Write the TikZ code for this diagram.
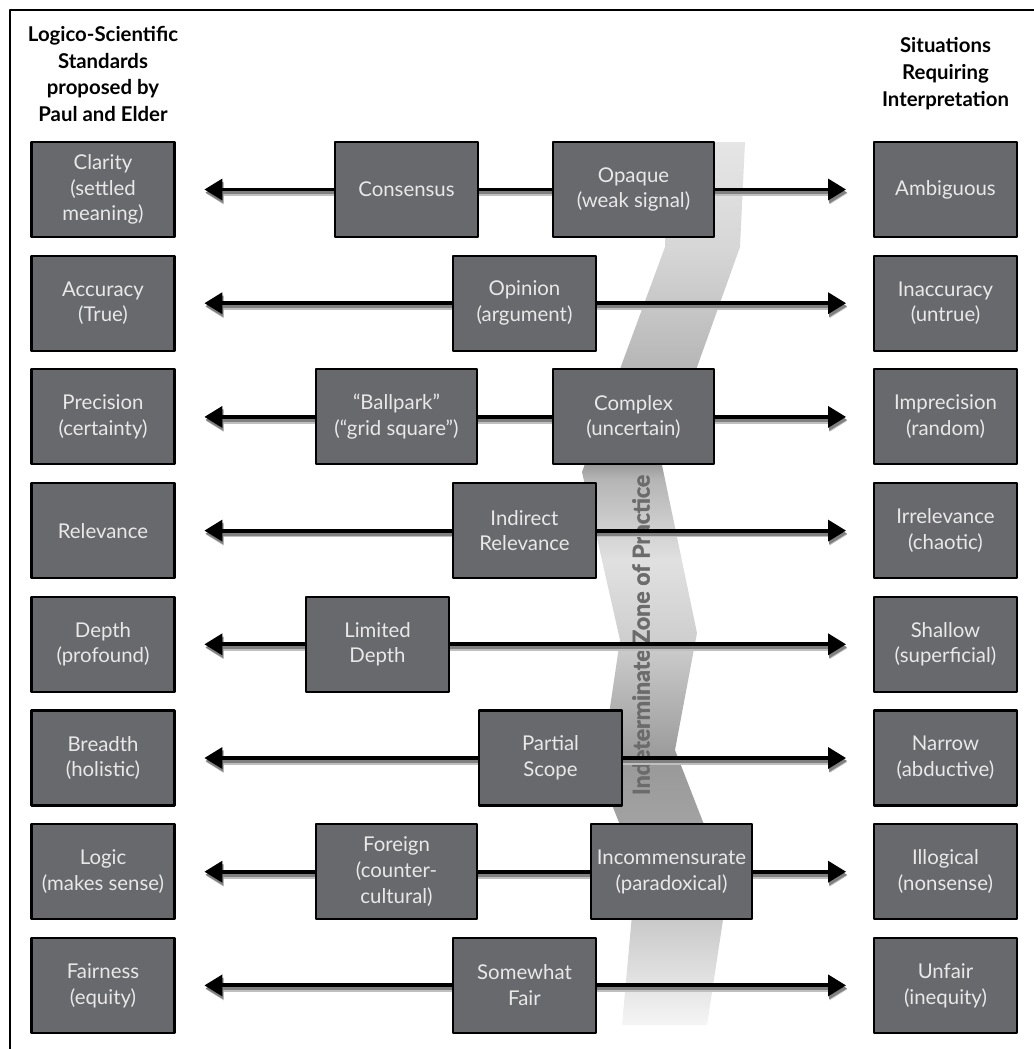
\documentclass[tikz,border=0pt]{standalone}
\usepackage{fontspec}
\setmainfont{Lato}
\newfontfamily\zonefont{Lato}[FakeBold=2]
\usetikzlibrary{arrows.meta}
\definecolor{boxgray}{RGB}{104,105,109}
\definecolor{boxtext}{RGB}{232,232,232}
\pgfdeclareverticalshading{zoneshade}{100bp}{color(0bp)=(black!4); color(25bp)=(black!4); color(30.9bp)=(black!21); color(36bp)=(black!36); color(40bp)=(black!40); color(46.8bp)=(black!19); color(51.3bp)=(black!12); color(55.9bp)=(black!29); color(56.7bp)=(black!39); color(68.9bp)=(black!16); color(75bp)=(black!10); color(100bp)=(black!10)}
\begin{document}
\begin{tikzpicture}[x=0.02cm,y=-0.02cm,line join=round]
\tikzset{box/.style={draw=black,line width=1.2pt,fill=boxgray,text=boxtext,minimum width=2.86cm,minimum height=1.9cm,align=center,inner sep=0pt,font=\fontsize{11.6}{14.7}\selectfont},
wide/.style={minimum width=3.22cm},
arr/.style={{Triangle[length=10.2pt,width=11.8pt]}-{Triangle[length=10.2pt,width=11.8pt]},line width=2.2pt,shorten <=16.4pt,shorten >=15.3pt},
head/.style={align=center,font=\bfseries\fontsize{11.6}{15.3}\selectfont}}
\useasboundingbox (0,0) rectangle (1034,1049);
\draw[line width=1.5pt] (10,1049) -- (10,10) -- (1034,10);
\node[head] (lhead) at (103,74) {Logico-Scientific\\Standards\\proposed by\\Paul and Elder};
\node[head] (rhead) at (945.5,74) {Situations\\Requiring\\Interpretation};
\shade[shading=zoneshade] (745,142) -- (740,247) -- (662,465) -- (697,633) -- (675,750) -- (712,845) -- (723,920) -- (707,1025)
 -- (622,1025) -- (632,915) -- (632,855) -- (600,775) -- (620,640) -- (582,472) -- (665,247) -- (668,142) -- cycle;
\node[rotate=90,text=black!58,font=\zonefont\bfseries\fontsize{13.2}{15}\selectfont] (zone) at (641,635) {Indeterminate Zone of Practice};
\foreach \i/\a/\b in {1/{Clarity\\(settled\\meaning)}/Ambiguous,2/{Accuracy\\(True)}/{Inaccuracy\\(untrue)},3/{Precision\\(certainty)}/{Imprecision\\(random)},4/Relevance/{Irrelevance\\(chaotic)},5/{Depth\\(profound)}/{Shallow\\(superficial)},6/{Breadth\\(holistic)}/{Narrow\\(abductive)},7/{Logic\\(makes sense)}/{Illogical\\(nonsense)},8/{Fairness\\(equity)}/{Unfair\\(inequity)}}{
\node[box] (l\i) at (103,{189.5+113.7*(\i-1)}) {\a};
\node[box] (r\i) at (945.5,{189.5+113.7*(\i-1)}) {\b};
}
\foreach \i in {1,...,8}{
\draw[arr,black!25,line width=3.4pt,transform canvas={xshift=0.8pt,yshift=-2.2pt}] (l\i) -- (r\i);
\draw[arr,black!50,transform canvas={xshift=0.6pt,yshift=-1.7pt}] (l\i) -- (r\i);
}
\foreach \i in {1,...,8}
\draw[arr] (l\i) -- (r\i);
\node[box] (cons) at (406.5,189.5) {Consensus};
\node[box,wide] (opaq) at (633.5,189.5) {Opaque\\(weak signal)};
\node[box] (opin) at (524.5,303.2) {Opinion\\(argument)};
\node[box,wide] (ball) at (396.5,416.9) {“Ballpark”\\(“grid square”)};
\node[box,wide] (comp) at (633.5,416.9) {Complex\\(uncertain)};
\node[box] (indr) at (524.5,530.6) {Indirect\\Relevance};
\node[box] (limd) at (377.5,644.3) {Limited\\Depth};
\node[box] (part) at (550.5,758) {Partial\\Scope};
\node[box,wide] (forn) at (396.5,871.7) {Foreign\\(counter-\\cultural)};
\node[box,wide] (incm) at (671.5,871.7) {Incommensurate\\(paradoxical)};
\node[box] (fair) at (524.5,985.4) {Somewhat\\Fair};
\end{tikzpicture}
\end{document}
